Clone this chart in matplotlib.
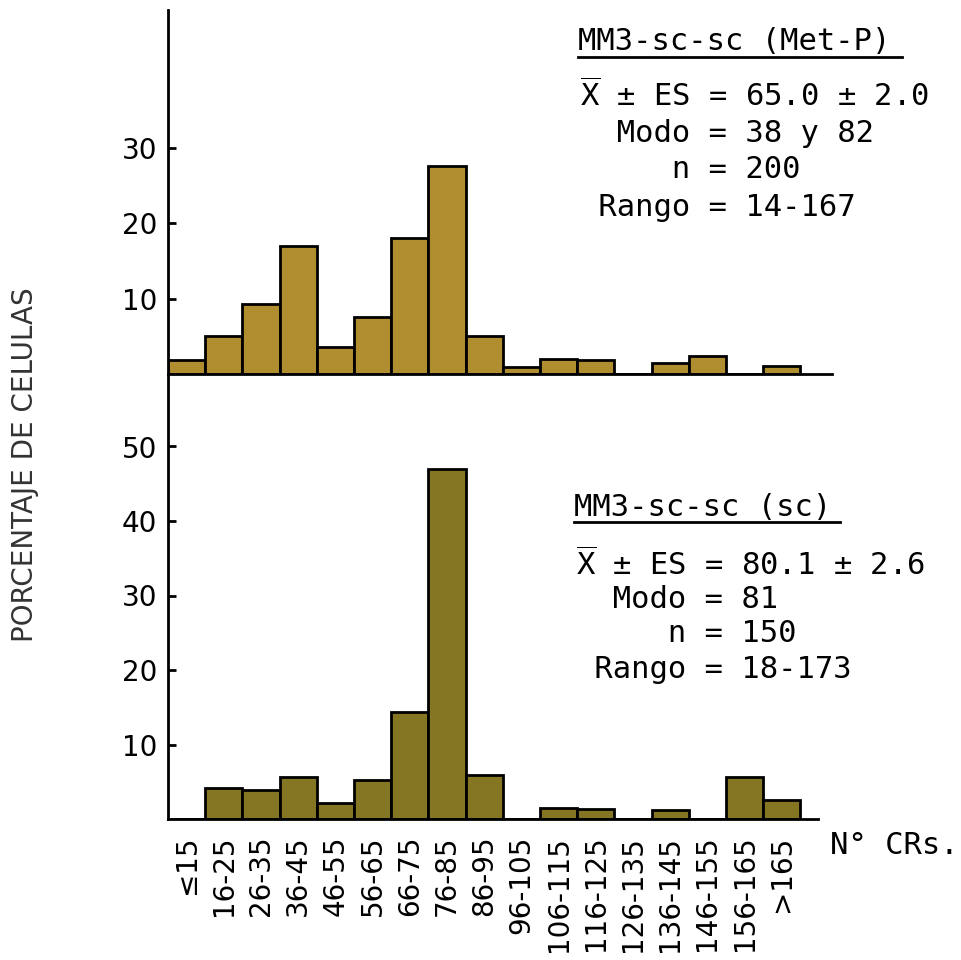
import matplotlib
matplotlib.use("Agg")
import matplotlib.pyplot as plt
from matplotlib.lines import Line2D
import numpy as np

# categories (N° CRs.) shared by both panels
categories = ["≤15", "16-25", "26-35", "36-45", "46-55", "56-65", "66-75", "76-85",
              "86-95", "96-105", "106-115", "116-125", "126-135", "136-145",
              "146-155", "156-165", ">165"]

# % of cells
met_p = [1.8, 5.0, 9.3, 17.0, 3.6, 7.6, 18.0, 27.5, 5.0, 0.9, 2.0, 1.9, 0.0, 1.4, 2.4, 0.0, 1.1]
sc = [0.0, 4.1, 3.9, 5.7, 2.1, 5.3, 14.4, 47.0, 5.9, 0.0, 1.5, 1.3, 0.0, 1.2, 0.0, 5.7, 2.6]

top_ticks = [10, 20, 30]
bottom_ticks = [10, 20, 30, 40, 50]

top_title = "MM3-sc-sc (Met-P)"
top_stats = [r"$\overline{\mathrm{X}}$ ± ES = 65.0 ± 2.0",
             "  Modo = 38 y 82",
             "     n = 200",
             " Rango = 14-167"]
bottom_title = "MM3-sc-sc (sc)"
bottom_stats = [r"$\overline{\mathrm{X}}$ ± ES = 80.1 ± 2.6",
                "  Modo = 81",
                "     n = 150",
                " Rango = 18-173"]

plt.rcParams['font.family'] = ['DejaVu Sans']
plt.rcParams['mathtext.fontset'] = 'custom'
plt.rcParams['mathtext.rm'] = 'DejaVu Sans Mono'
plt.rcParams['mathtext.it'] = 'DejaVu Sans Mono'

W, H = 961, 960
fig = plt.figure(figsize=(W / 100, H / 100), dpi=100)


def fx(px):
    return px / W


def fy(py):
    return 1 - py / H


x = np.arange(len(categories))
unit = 37.2  # px per category

# top panel
ax1 = fig.add_axes([fx(168), fy(374), fx(832 - 168), (374 - 10) / H])
ax1.bar(x, met_p, width=1, align="edge", color="#B08E30", edgecolor="black", linewidth=2)
ax1.set_xlim(0, (832 - 168) / unit)
ax1.set_ylim(0, 364 / 7.55)

# bottom panel
ax2 = fig.add_axes([fx(168), fy(819), fx(818 - 168), (819 - 376) / H])
ax2.bar(x, sc, width=1, align="edge", color="#857624", edgecolor="black", linewidth=2)
ax2.set_xlim(0, (818 - 168) / unit)
ax2.set_ylim(0, 443 / 7.45)

for ax, ticks in ((ax1, top_ticks), (ax2, bottom_ticks)):
    for s in ("top", "right"):
        ax.spines[s].set_visible(False)
    for s in ("left", "bottom"):
        ax.spines[s].set_linewidth(2)
    ax.set_yticks(ticks)
    ax.set_yticklabels([str(t) for t in ticks], fontsize=20)
    ax.tick_params(axis="y", direction="in", length=6, width=2, pad=8)
    ax.patch.set_visible(False)

ax1.set_xticks([])
ax2.set_xticks(x + 0.5)
ax2.set_xticklabels(categories, rotation=90, va="top", ha="center", fontsize=20)
ax2.tick_params(axis="x", length=0, pad=12)

fig.text(fx(25), fy(465), "PORCENTAJE DE CELULAS", rotation=90, ha="center", va="center",
         fontsize=20, color="#333333")
fig.text(fx(830), fy(845), "N° CRs.", family="DejaVu Sans Mono", fontsize=22, ha="left", va="center")


def stat_block(x0, title_y, line_ys, title, lines, ul_end):
    fig.text(fx(x0), fy(title_y), title, family="DejaVu Sans Mono", fontsize=22,
             ha="left", va="center")
    fig.add_artist(Line2D([fx(x0), fx(ul_end)], [fy(title_y + 15), fy(title_y + 15)],
                          transform=fig.transFigure, color="black", lw=2))
    for yy, s in zip(line_ys, lines):
        fig.text(fx(x0 + 2), fy(yy), s, family="DejaVu Sans Mono", fontsize=22,
                 ha="left", va="center")


stat_block(578, 42, [96, 134, 170, 207], top_title, top_stats, 902)
stat_block(574, 507, [565, 599, 634, 670], bottom_title, bottom_stats, 840)

fig.savefig("out.png", dpi=100)
